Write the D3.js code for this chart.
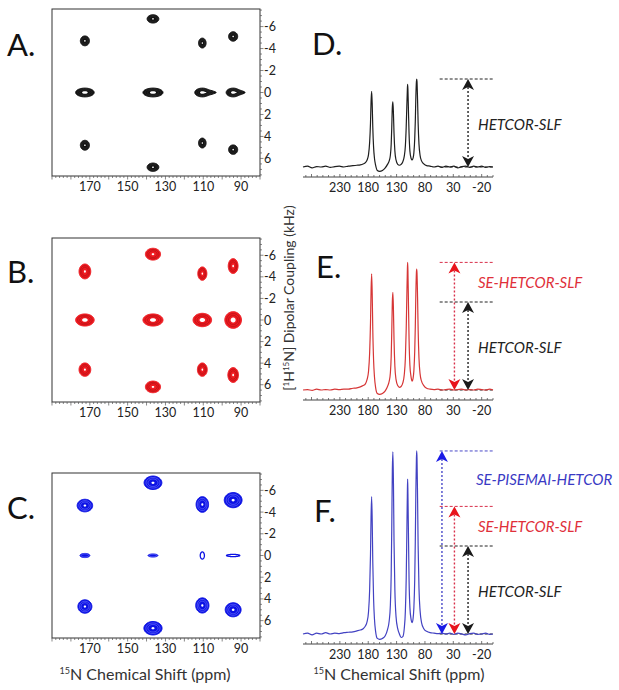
<!DOCTYPE html>
<html lang="en">
<head>
<meta charset="utf-8">
<title>HETCOR-SLF comparison</title>
<script src="https://cdnjs.cloudflare.com/ajax/libs/d3/7.8.5/d3.min.js"></script>
<style>
  body { margin: 0; background: #fff; }
  svg { font-family: Lato, "Open Sans", sans-serif; }
</style>
</head>
<body>
<script>
// ---------- 2D spectra (A, B, C) ----------
// 15N shifts of the four resonances (ppm)
var peakShift = [172.6, 136.6, 110.5, 94.2];

// dipolar couplings (kHz), rows: upper / centre / lower
var couplingA = [[-4.7, -6.7, -4.5, -5.1], [0, 0, 0, 0], [4.8, 6.8, 4.6, 5.2]];
var couplingB = [[-4.5, -6.1, -4.3, -5.0], [0, 0, 0, 0], [4.6, 6.2, 4.6, 5.1]];
var couplingC = [[-4.6, -6.7, -4.7, -5.1], [0, 0, 0, 0], [4.7, 6.7, 4.6, 5.0]];

// half linewidths of the outer contour (ppm and kHz)
var lwPpmA = [[2.4, 3.1, 2.0, 2.4], [4.9, 5.3, 4.0, 3.7], [2.4, 3.1, 2.0, 2.4]];
var lwKhzA = [[0.45, 0.38, 0.45, 0.43], [0.40, 0.40, 0.40, 0.40], [0.45, 0.38, 0.45, 0.43]];
var lwPpmB = [[3.1, 4.0, 2.4, 2.6], [4.9, 5.3, 4.9, 4.4], [3.1, 4.0, 2.6, 2.8]];
var lwKhzB = [[0.69, 0.55, 0.62, 0.69], [0.56, 0.56, 0.62, 0.77], [0.62, 0.54, 0.62, 0.69]];
var lwPpmC = [[4.1, 4.7, 3.3, 4.7], [2.6, 2.6, 1.1, 3.5], [3.7, 4.8, 3.5, 4.2]];
var lwKhzC = [[0.58, 0.62, 0.72, 0.70], [0.19, 0.14, 0.33, 0.10], [0.62, 0.62, 0.70, 0.65]];

// number of contour levels drawn for each peak
var levelsA = [[4, 4, 4, 4], [4, 4, 4, 4], [4, 4, 4, 4]];
var levelsB = [[4, 4, 4, 4], [4, 4, 4, 4], [4, 4, 4, 4]];
var levelsC = [[4, 4, 4, 4], [3, 3, 1, 1], [4, 4, 4, 4]];

// lineshape tail towards low ppm (ppm from centre, 0 = none)
var tailA = [[0, 0, 0, 0], [0, 0, 7.3, 6.3], [0, 0, 0, 0]];
var tailB = [[0, 0, 0, 0], [0, 0, 0, 0], [0, 0, 0, 0]];
var tailC = [[0, 0, 0, 0], [0, 0, 0, 0], [0, 0, 0, 0]];

var shiftTicks = [170, 150, 130, 110, 90];
var couplingTicks = [-6, -4, -2, 0, 2, 4, 6];

// ---------- 1D projections (D, E, F) ----------
var specPpm = [295, 287, 279, 271, 263, 255, 247, 239, 231, 223,
  215, 207, 200, 194, 189, 185, 182, 179.5, 177.5, 176,
  175, 174, 173, 172, 170.5, 169, 167, 164, 160, 155,
  150, 146, 143, 141, 139.5, 138.5, 137.5, 136.5, 135.5, 134.5,
  133, 131, 128, 125, 122, 119, 116.5, 114.5, 113, 112,
  111, 110.5, 110, 109, 108, 106.5, 104.5, 102.5, 101, 99.5,
  98, 97, 96, 95, 94.5, 94, 93, 92, 90.5, 88.5,
  86, 82, 77, 71, 64, 57, 50, 43, 36, 29,
  22, 15, 8, 1, -6, -13, -20, -27, -34, -40];

// intensities relative to the HETCOR-SLF maximum
var specD = [0.00, 0.01, -0.01, 0.005, 0.00, 0.01, -0.005, 0.005, 0.01, 0.00,
  0.01, 0.015, 0.02, 0.025, 0.035, 0.05, 0.08, 0.14, 0.28, 0.50,
  0.74, 0.86, 0.72, 0.46, 0.22, 0.10, 0.02, -0.04, -0.05, -0.04,
  -0.01, 0.03, 0.07, 0.13, 0.26, 0.45, 0.68, 0.74, 0.60, 0.38,
  0.18, 0.08, 0.03, 0.02, 0.03, 0.06, 0.12, 0.24, 0.46, 0.68,
  0.88, 0.94, 0.88, 0.62, 0.38, 0.18, 0.10, 0.08, 0.10, 0.16,
  0.32, 0.52, 0.80, 0.97, 1.00, 0.97, 0.76, 0.50, 0.26, 0.13,
  0.07, 0.035, 0.015, 0.01, 0.00, 0.01, -0.005, 0.01, 0.00, 0.01,
  -0.01, 0.005, 0.01, -0.005, 0.01, 0.00, 0.01, -0.005, 0.005, 0.00];
var specE = [0.00, 0.005, -0.005, 0.01, 0.00, 0.005, 0.00, 0.01, 0.005, 0.01,
  0.01, 0.02, 0.025, 0.035, 0.05, 0.07, 0.12, 0.21, 0.42, 0.76,
  1.12, 1.32, 1.10, 0.70, 0.33, 0.15, 0.03, -0.04, -0.05, -0.04,
  -0.01, 0.04, 0.10, 0.19, 0.38, 0.66, 1.00, 1.11, 0.90, 0.57,
  0.27, 0.12, 0.05, 0.03, 0.04, 0.08, 0.17, 0.36, 0.70, 1.04,
  1.36, 1.45, 1.36, 0.96, 0.58, 0.28, 0.15, 0.10, 0.13, 0.22,
  0.44, 0.72, 1.10, 1.34, 1.375, 1.33, 1.05, 0.69, 0.36, 0.18,
  0.10, 0.05, 0.02, 0.01, 0.005, 0.01, 0.00, 0.005, 0.01, 0.00,
  0.005, 0.01, 0.00, 0.005, 0.00, 0.01, 0.005, 0.00, 0.01, 0.00];
var specF = [0.00, 0.01, -0.01, 0.01, 0.00, 0.015, 0.00, 0.01, 0.005, 0.015,
  0.02, 0.025, 0.035, 0.045, 0.06, 0.09, 0.14, 0.25, 0.50, 0.90,
  1.33, 1.56, 1.30, 0.83, 0.39, 0.17, 0.03, -0.05, -0.06, -0.05,
  -0.02, 0.05, 0.15, 0.32, 0.68, 1.20, 1.85, 2.07, 1.70, 1.05,
  0.50, 0.20, 0.06, 0.00, -0.04, -0.03, 0.06, 0.26, 0.64, 1.10,
  1.60, 1.76, 1.60, 1.10, 0.62, 0.30, 0.17, 0.13, 0.17, 0.30,
  0.62, 1.05, 1.62, 2.00, 2.08, 2.00, 1.55, 1.00, 0.52, 0.26,
  0.13, 0.06, 0.03, 0.015, 0.01, 0.005, 0.01, 0.00, 0.01, -0.005,
  0.01, 0.00, -0.01, 0.005, 0.01, -0.005, 0.00, 0.01, -0.005, 0.00];

var specTicks = [230, 180, 130, 80, 30, -20];
var methods = ["HETCOR-SLF", "SE-HETCOR-SLF", "SE-PISEMAI-HETCOR"];
var methodArrowPpm = [4, 28, 50];
var methodLabelLevel = [0.48, 1.22, 1.75];

// ---------- drawing ----------
var svg = d3.select("body").append("svg")
    .attr("width", 619)
    .attr("height", 690);

// contour outline, optionally drawn out into a point on the low-ppm side
function blob(cx, cy, rx, ry, tail) {
  var pts = d3.range(60).map(function(j) {
    var t = j / 60 * 2 * Math.PI, c = Math.cos(t), s = Math.sin(t);
    var ext = (tail > rx && c > 0) ? (tail - rx) * Math.pow(c, 8) : 0;
    return [cx + c * (rx + ext), cy + s * ry];
  });
  return d3.line().curve(d3.curveLinearClosed)(pts);
}

var x2 = d3.scaleLinear().domain([190, 80]).range([52, 260]);

var panels2d = [
  {letter: "A.", top: 9, bottom: 176, color: "#111", inner: "#333", coupling: couplingA, lwPpm: lwPpmA, lwKhz: lwKhzA, levels: levelsA, tail: tailA},
  {letter: "B.", top: 238, bottom: 402, color: "#ee1c22", inner: "#a80d10", coupling: couplingB, lwPpm: lwPpmB, lwKhz: lwKhzB, levels: levelsB, tail: tailB},
  {letter: "C.", top: 473, bottom: 638, color: "#0c12e4", inner: "#7a80ff", coupling: couplingC, lwPpm: lwPpmC, lwKhz: lwKhzC, levels: levelsC, tail: tailC}
];

panels2d.forEach(function(p) {
  var y = d3.scaleLinear().domain([-7.6, 7.6]).range([p.top, p.bottom]);
  var g = svg.append("g");

  // contour peaks: filled outer level, inner levels as lines, open centre
  p.coupling.forEach(function(row, r) {
    row.forEach(function(c, i) {
      var cx = x2(peakShift[i]), cy = y(c);
      var rx = x2(peakShift[i] - p.lwPpm[r][i]) - cx;
      var ry = y(c + p.lwKhz[r][i]) - cy;
      var tail = p.tail[r][i] ? x2(peakShift[i] - p.tail[r][i]) - cx : 0;
      var n = p.levels[r][i];
      if (n < 2) {
        g.append("path").attr("d", blob(cx, cy, rx, ry, tail))
          .attr("fill", "none").attr("stroke", p.color).attr("stroke-width", 1.3);
        return;
      }
      g.append("path").attr("d", blob(cx, cy, rx, ry, tail))
        .attr("fill", p.color).attr("stroke", p.color).attr("stroke-width", 1);
      for (var k = 1; k < n - 1; k++) {
        var f = 1 - k * 0.22;
        g.append("path").attr("d", blob(cx, cy, rx * f, ry * f, tail * f))
          .attr("fill", "none").attr("stroke", p.inner).attr("stroke-width", 0.6);
      }
      if (n > 3) {
        var h = r === 1 ? 0.3 : 0.17;
        g.append("path").attr("d", blob(cx, cy, rx * h, ry * h, tail * h))
          .attr("fill", "#fff");
      }
    });
  });

  // frame
  g.append("rect")
    .attr("x", x2(190)).attr("y", p.top)
    .attr("width", x2(80) - x2(190)).attr("height", p.bottom - p.top)
    .attr("fill", "none").attr("stroke", "#333").attr("stroke-width", 1);

  // bottom ticks
  g.selectAll(".xt").data(d3.range(80, 191, 2)).enter().append("line")
    .attr("x1", function(d) { return x2(d); }).attr("x2", function(d) { return x2(d); })
    .attr("y1", p.bottom).attr("y2", function(d) { return p.bottom + (d % 10 === 0 ? 3.5 : 2); })
    .attr("stroke", "#555").attr("stroke-width", 0.7);
  g.selectAll(".xl").data(shiftTicks).enter().append("text")
    .attr("x", function(d) { return x2(d); }).attr("y", p.bottom + 15)
    .attr("text-anchor", "middle").attr("font-size", 12.5).attr("fill", "#222")
    .text(function(d) { return d; });

  // right ticks
  g.selectAll(".yt").data(d3.range(-7.5, 7.6, 0.5)).enter().append("line")
    .attr("x1", x2(80)).attr("x2", function(d) { return x2(80) + (d % 2 === 0 ? 3.5 : 2); })
    .attr("y1", function(d) { return y(d); }).attr("y2", function(d) { return y(d); })
    .attr("stroke", "#555").attr("stroke-width", 0.7);
  g.selectAll(".yl").data(couplingTicks).enter().append("text")
    .attr("x", 264).attr("y", function(d) { return y(d) + 4.5; })
    .attr("font-size", 12.5).attr("fill", "#222")
    .text(function(d) { return d < 0 ? "-" + Math.abs(d) : d; });

  g.append("text").attr("x", 7).attr("y", (p.top + p.bottom) / 2 - 37)
    .attr("font-size", 31).attr("fill", "#111").text(p.letter);
});

// dipolar coupling axis title
var yTitle = svg.append("text")
  .attr("transform", "translate(294,298) rotate(-90)")
  .attr("text-anchor", "middle").attr("font-size", 14).attr("fill", "#333");
yTitle.append("tspan").text("[");
yTitle.append("tspan").attr("font-size", 8).attr("dy", -5).text("1");
yTitle.append("tspan").attr("dy", 5).text("H");
yTitle.append("tspan").attr("font-size", 8).attr("dy", -5).text("15");
yTitle.append("tspan").attr("dy", 5).text("N] Dipolar Coupling (kHz)");

function shiftTitle(cx) {
  var t = svg.append("text").attr("x", cx).attr("y", 680)
    .attr("text-anchor", "middle").attr("font-size", 16).attr("fill", "#333");
  t.append("tspan").attr("font-size", 9).attr("dy", -6).text("15");
  t.append("tspan").attr("dy", 6).text("N Chemical Shift (ppm)");
}
shiftTitle(145);
shiftTitle(399);

// 1D panels
var xs = d3.scaleLinear().domain([295, -40]).range([303, 493]);
var seriesList = [specD, specE, specF];
var methodColor = ["#1a1a1a", "#e8141c", "#1a1ae6"];
var methodLine = ["#222", "#d8304a", "#4a4ac8"];
var methodText = ["#222", "#e0303a", "#3a3ac4"];

var panels1d = [
  {letter: "D.", lx: 312, axisY: 177, values: specD, color: "#1e1e1e", methods: 1},
  {letter: "E.", lx: 316, axisY: 400, values: specE, color: "#d63636", methods: 2},
  {letter: "F.", lx: 314, axisY: 644, values: specF, color: "#4242c2", methods: 3}
];

panels1d.forEach(function(p) {
  var y = d3.scaleLinear().domain([0, 1]).range([p.axisY - 10, p.axisY - 98]);
  var g = svg.append("g");

  g.append("text").attr("x", p.lx).attr("y", p.axisY - 122)
    .attr("font-size", 31).attr("fill", "#111").text(p.letter);

  // baseline reference (dashed black)
  g.append("line")
    .attr("x1", xs(54)).attr("x2", xs(-40)).attr("y1", y(0)).attr("y2", y(0))
    .attr("stroke", "#222").attr("stroke-width", 1).attr("stroke-dasharray", "3,2");

  var line = d3.line()
    .x(function(d, i) { return xs(specPpm[i]); })
    .y(function(d) { return y(d); })
    .curve(d3.curveMonotoneX);
  g.append("path").datum(p.values)
    .attr("d", line).attr("fill", "none")
    .attr("stroke", p.color).attr("stroke-width", 1.2);

  // ppm axis
  g.append("line").attr("x1", 303).attr("x2", 493).attr("y1", p.axisY).attr("y2", p.axisY)
    .attr("stroke", "#444").attr("stroke-width", 1);
  g.selectAll(".st").data(d3.range(-40, 296, 10)).enter().append("line")
    .attr("x1", function(d) { return xs(d); }).attr("x2", function(d) { return xs(d); })
    .attr("y1", p.axisY).attr("y2", function(d) { return p.axisY - ((d + 20) % 50 === 0 ? 3 : 2); })
    .attr("stroke", "#555").attr("stroke-width", 0.8);
  g.selectAll(".sl").data(specTicks).enter().append("text")
    .attr("x", function(d) { return xs(d); }).attr("y", p.axisY + 15)
    .attr("text-anchor", "middle").attr("font-size", 12.5).attr("fill", "#222")
    .text(function(d) { return d < 0 ? "-" + Math.abs(d) : d; });

  // intensity arrows, one per experiment shown
  for (var m = p.methods - 1; m >= 0; m--) {
    var level = d3.max(seriesList[m]);
    var ax = xs(methodArrowPpm[m]);
    var yt = y(level), yb = y(0);
    g.append("line")
      .attr("x1", xs(54)).attr("x2", xs(-40)).attr("y1", yt).attr("y2", yt)
      .attr("stroke", methodLine[m]).attr("stroke-width", 1).attr("stroke-dasharray", "3,2");
    g.append("line")
      .attr("x1", ax).attr("x2", ax).attr("y1", yt + 4).attr("y2", yb - 4)
      .attr("stroke", methodLine[m]).attr("stroke-width", 1.4).attr("stroke-dasharray", "2,2");
    g.append("path")
      .attr("d", "M" + ax + "," + yt + "L" + (ax - 6) + "," + (yt + 11) + "L" + ax + "," + (yt + 8) + "L" + (ax + 6) + "," + (yt + 11) + "Z")
      .attr("fill", methodColor[m]);
    g.append("path")
      .attr("d", "M" + ax + "," + yb + "L" + (ax - 6) + "," + (yb - 11) + "L" + ax + "," + (yb - 8) + "L" + (ax + 6) + "," + (yb - 11) + "Z")
      .attr("fill", methodColor[m]);
    g.append("text")
      .attr("x", m === 2 ? 476 : 478).attr("y", y(methodLabelLevel[m]) + 5)
      .attr("font-size", 15).attr("font-style", "italic").attr("fill", methodText[m])
      .text(methods[m]);
  }
});
</script>
</body>
</html>
